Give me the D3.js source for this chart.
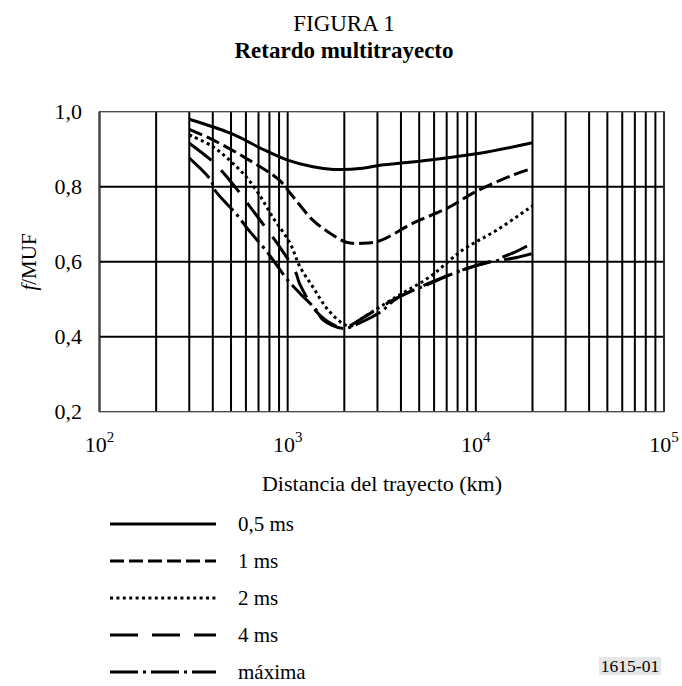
<!DOCTYPE html>
<html>
<head>
<meta charset="utf-8">
<script src="https://cdn.jsdelivr.net/npm/d3@7"></script>
<style>
  html, body { margin: 0; padding: 0; background: #fff; }
  svg { display: block; }
  text { font-family: "Liberation Serif", "Times New Roman", serif; fill: #000; }
</style>
</head>
<body>
<svg id="chart" width="682" height="686"></svg>
<script>
// ---- Data ----
const seriesNames = ["0,5 ms", "1 ms", "2 ms", "4 ms", "máxima"];
const s05 = [[300,0.98],[500,0.942],[750,0.898],[1000,0.871],[1360,0.853],[1750,0.846],[2500,0.849],[3000,0.856],[5700,0.871],[10500,0.889],[20000,0.917]];
const s1 = [[300,0.953],[400,0.925],[600,0.876],[900,0.818],[1070,0.773],[1360,0.711],[1680,0.676],[2050,0.652],[2500,0.649],[3100,0.656],[4600,0.702],[7000,0.742],[10000,0.787],[15700,0.831],[20000,0.849]];
const s2 = [[300,0.938],[400,0.907],[500,0.867],[600,0.827],[700,0.782],[830,0.72],[1030,0.649],[1160,0.587],[1360,0.533],[1590,0.48],[1900,0.44],[2150,0.428],[2500,0.45],[3800,0.507],[5700,0.56],[8500,0.631],[13000,0.685],[20000,0.749]];
const s4 = [[300,0.916],[400,0.867],[450,0.84],[560,0.782],[630,0.747],[785,0.683],[880,0.649],[1100,0.573],[1160,0.54],[1420,0.467],[1700,0.435],[2000,0.424],[2500,0.45],[3700,0.5],[5600,0.542],[8500,0.578],[12500,0.604],[16000,0.625],[18700,0.642]];
const sMax = [[300,0.876],[390,0.818],[410,0.791],[540,0.724],[610,0.689],[775,0.627],[835,0.605],[1000,0.551],[1160,0.516],[1420,0.471],[1540,0.445],[1970,0.422],[2500,0.44],[3100,0.465],[3800,0.502],[5600,0.54],[8500,0.578],[12000,0.6],[15700,0.609],[20000,0.622]];
const xDecades = [100, 1000, 10000, 100000];
const xExponents = ["2", "3", "4", "5"];
const yTicks = [0.2, 0.4, 0.6, 0.8, 1.0];
const yTickLabels = ["0,2", "0,4", "0,6", "0,8", "1,0"];

// ---- Layout ----
const svg = d3.select("#chart");
const pL = 99.5, pR = 664, pT = 111.7, pB = 411.7;
const x = d3.scaleLog().domain([100, 100000]).range([pL, pR]);
const y = d3.scaleLinear().domain([0.2, 1.0]).range([pB, pT]);

const styles = [
  { dash: null },
  { dash: "14,5" },
  { dash: "3,3.4" },
  { dash: "28,14" },
  { dash: "28,5,3,5" }
];
const allSeries = [s05, s1, s2, s4, sMax];

// Titles
svg.append("text").attr("x", 344).attr("y", 31).attr("text-anchor", "middle")
  .style("font-size", "23px").text("FIGURA 1");
svg.append("text").attr("x", 344).attr("y", 58).attr("text-anchor", "middle")
  .style("font-size", "23px").style("font-weight", "bold").text("Retardo multitrayecto");

// Grid: vertical lines
const g = svg.append("g");
g.selectAll("line.v").data(x.ticks()).enter().append("line")
  .attr("x1", d => x(d)).attr("x2", d => x(d))
  .attr("y1", pT).attr("y2", pB)
  .attr("stroke", "#000").attr("stroke-width", 2);
// horizontal
g.selectAll("line.h").data(yTicks.slice(1, -1)).enter().append("line")
  .attr("x1", pL).attr("x2", pR)
  .attr("y1", d => y(d)).attr("y2", d => y(d))
  .attr("stroke", "#000").attr("stroke-width", 2);
// frame
g.append("rect").attr("x", pL).attr("y", pT).attr("width", pR - pL).attr("height", pB - pT)
  .attr("fill", "none").attr("stroke", "#444").attr("stroke-width", 1.3);

// Y tick labels
svg.selectAll("text.yt").data(yTicks).enter().append("text")
  .attr("x", 82).attr("y", d => y(d)).attr("dy", "0.35em").attr("text-anchor", "end")
  .style("font-size", "22px").text((d, i) => yTickLabels[i]);

// X tick labels
const xt = svg.selectAll("text.xt").data(xDecades).enter().append("text")
  .attr("x", d => x(d)).attr("y", 452).attr("text-anchor", "middle").style("font-size", "22px");
xt.append("tspan").text("10");
xt.append("tspan").attr("dy", -10).style("font-size", "15px").text((d, i) => xExponents[i]);

// Axis titles
svg.append("text").attr("x", 382).attr("y", 491).attr("text-anchor", "middle")
  .style("font-size", "22px").text("Distancia del trayecto (km)");
const yt = svg.append("text").attr("transform", "translate(36,262) rotate(-90)")
  .attr("text-anchor", "middle").style("font-size", "21px");
yt.append("tspan").style("font-style", "italic").text("f");
yt.append("tspan").text("/MUF");

// Curves
const line = d3.line().x(d => x(d[0])).y(d => y(d[1])).curve(d3.curveCatmullRom.alpha(0.5));
allSeries.forEach((s, i) => {
  svg.append("path").datum(s).attr("d", line)
    .attr("fill", "none").attr("stroke", "#000").attr("stroke-width", 3)
    .attr("stroke-dasharray", styles[i].dash);
});

// Legend
const legY0 = 524, legDy = 37;
seriesNames.forEach((name, i) => {
  const yy = legY0 + i * legDy;
  svg.append("line").attr("x1", 110).attr("x2", 216).attr("y1", yy).attr("y2", yy)
    .attr("stroke", "#000").attr("stroke-width", 3).attr("stroke-dasharray", styles[i].dash);
  svg.append("text").attr("x", 238).attr("y", yy).attr("dy", "0.35em")
    .style("font-size", "21px").text(name);
});

// Figure code
svg.append("rect").attr("x", 599).attr("y", 657).attr("width", 62).attr("height", 18).attr("fill", "#e6e6e6");
svg.append("text").attr("x", 630).attr("y", 666).attr("dy", "0.35em").attr("text-anchor", "middle")
  .style("font-size", "17.5px").text("1615-01");
</script>
</body>
</html>
